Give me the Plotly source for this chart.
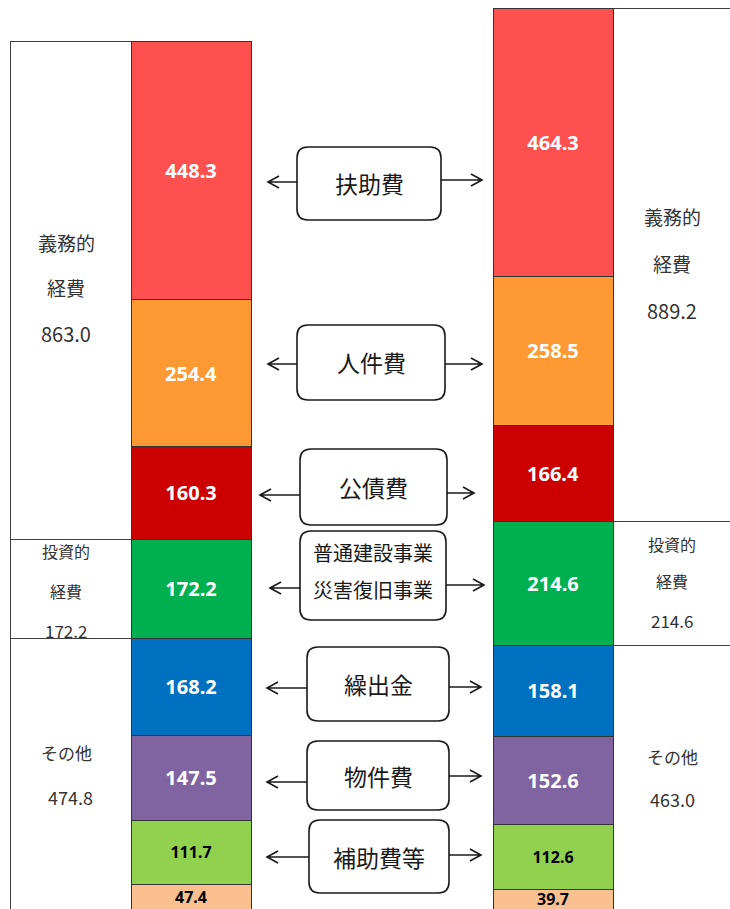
import plotly.graph_objects as go

# ---------------- data ----------------
years = ["left", "right"]
seg_names = ["扶助費", "人件費", "公債費", "普通建設事業・災害復旧事業", "繰出金", "物件費", "補助費等", "その他"]
# values listed top-to-bottom for each column
left_vals = [448.3, 254.4, 160.3, 172.2, 168.2, 147.5, 111.7, 47.4]
right_vals = [464.3, 258.5, 166.4, 214.6, 158.1, 152.6, 112.6, 39.7]
seg_colors = ["#FF5050", "#FF9933", "#CC0000", "#00B050", "#0070C0", "#8064A2", "#92D050", "#FAC090"]
seg_text_colors = ["white", "white", "white", "white", "white", "white", "black", "black"]

group_names = [["義務的", "経費"], ["投資的", "経費"], ["その他"]]
group_members = [[0, 1, 2], [3], [4, 5, 6, 7]]
box_labels = ["扶助費", "人件費", "公債費", ["普通建設事業", "災害復旧事業"], "繰出金", "物件費", "補助費等"]

# ---------------- layout constants ----------------
W, H = 730, 909
BAR_X = [191, 553]
BAR_W = 120
SIDE_X = [70.5, 673]
SIDE_W = [121, 120]
Y_RANGE = [5.2, 1582]
SEG_FONT = [20, 20, 20, 20, 20, 20, 16, 16]


def py(y):
    return 1 - y / H


fig = go.Figure()

# side (white) boxes, stacked bottom to top
for gi in reversed(range(len(group_members))):
    lv = round(sum(left_vals[i] for i in group_members[gi]), 1)
    rv = round(sum(right_vals[i] for i in group_members[gi]), 1)
    fig.add_trace(go.Bar(
        x=SIDE_X, y=[lv, rv], width=SIDE_W,
        marker=dict(color="white", line=dict(color="#404040", width=1)),
        hoverinfo="skip", showlegend=False))

annotations = []
last = len(left_vals) - 1
# coloured segments, stacked bottom to top
for i in reversed(range(len(left_vals))):
    labels = [f"{left_vals[i]:.1f}", f"{right_vals[i]:.1f}"]
    tf = dict(color=seg_text_colors[i], size=SEG_FONT[i], family="Noto Sans, sans-serif", weight="bold")
    fig.add_trace(go.Bar(
        x=BAR_X, y=[left_vals[i], right_vals[i]], width=BAR_W,
        name=seg_names[i],
        marker=dict(color=seg_colors[i], line=dict(color="#333333", width=1)),
        text=None if i == last else labels,
        textposition="inside", insidetextanchor="middle",
        textfont=tf, constraintext="none",
        hoverinfo="skip", showlegend=False))
    if i == last:
        # bottom segment is partly below the page edge: keep its label inside the page
        for bx, t, yy in zip(BAR_X, labels, [897, 899]):
            annotations.append(dict(x=bx, y=py(yy), xref="x", yref="paper", text=t, showarrow=False,
                                    font=tf, xanchor="center", yanchor="middle"))

FONT_JP = "Noto Sans CJK JP"

# side box labels
left_side = [
    [(242, "義務的", 19), (287, "経費", 19), (333, None, 20)],
    [(551, "投資的", 16), (591, "経費", 16), (630, None, 17)],
    [(752, "その他", 17), (797, None, 18)],
]
right_side = [
    [(217, "義務的", 19), (263, "経費", 19), (310, None, 20)],
    [(544, "投資的", 16), (581, "経費", 16), (620, None, 17)],
    [(756, "その他", 17), (799, None, 18)],
]
for col, spec, xc in [(left_vals, left_side, 66), (right_vals, right_side, 672)]:
    for gi, lines in enumerate(spec):
        total = round(sum(col[i] for i in group_members[gi]), 1)
        for (yy, txt, fs) in lines:
            t = txt if txt is not None else f"{total:.1f}"
            annotations.append(dict(x=xc + (4 if (gi == 2 and txt is None and xc < 300) else 0),
                                    y=py(yy), xref="x", yref="paper", text=t, showarrow=False,
                                    font=dict(size=fs, color="#333333", family=FONT_JP),
                                    xanchor="center", yanchor="middle"))

# middle rounded boxes with arrows
boxes = [  # x0, y0, x1, y1, left-arrow tip x, left y, right tip x, right y
    (297, 147, 441, 220, 268, 182, 482, 180),
    (297, 325, 445, 400, 268, 364, 482, 364),
    (300, 449, 447, 525, 260, 495, 474, 493),
    (300, 531, 446, 620, 270, 588, 484, 585),
    (307, 647, 449, 721, 267, 688, 481, 687),
    (307, 741, 449, 810, 267, 782, 481, 776),
    (309, 820, 449, 893, 267, 857, 481, 855),
]


def P(x, y):
    return f"{x},{py(y)}"


shapes = []
r = 11
for bi, (x0, y0, x1, y1, lx, ly, rx, ry) in enumerate(boxes):
    path = (f"M {P(x0 + r, y0)} L {P(x1 - r, y0)} Q {P(x1, y0)} {P(x1, y0 + r)} "
            f"L {P(x1, y1 - r)} Q {P(x1, y1)} {P(x1 - r, y1)} "
            f"L {P(x0 + r, y1)} Q {P(x0, y1)} {P(x0, y1 - r)} "
            f"L {P(x0, y0 + r)} Q {P(x0, y0)} {P(x0 + r, y0)} Z")
    shapes.append(dict(type="path", path=path, xref="x", yref="paper",
                       fillcolor="white", line=dict(color="#1a1a1a", width=1.6)))
    # left arrow
    shapes.append(dict(type="path", xref="x", yref="paper",
                       path=f"M {P(x0, ly)} L {P(lx, ly)} M {P(lx + 11, ly - 6)} L {P(lx, ly)} L {P(lx + 11, ly + 6)}",
                       line=dict(color="#1a1a1a", width=1.6)))
    # right arrow
    shapes.append(dict(type="path", xref="x", yref="paper",
                       path=f"M {P(x1, ry)} L {P(rx, ry)} M {P(rx - 11, ry - 6)} L {P(rx, ry)} L {P(rx - 11, ry + 6)}",
                       line=dict(color="#1a1a1a", width=1.6)))
    lab = box_labels[bi]
    cx = (x0 + x1) / 2
    if isinstance(lab, list):
        for k, t in enumerate(lab):
            annotations.append(dict(x=cx, y=py([552, 589][k]), xref="x", yref="paper", text=t,
                                    showarrow=False, font=dict(size=20, color="#1a1a1a", family=FONT_JP),
                                    xanchor="center", yanchor="middle"))
    else:
        annotations.append(dict(x=cx, y=py((y0 + y1) / 2), xref="x", yref="paper", text=lab,
                                showarrow=False, font=dict(size=23, color="#1a1a1a", family=FONT_JP),
                                xanchor="center", yanchor="middle"))

fig.update_layout(
    barmode="stack",
    width=W, height=H,
    margin=dict(l=0, r=0, t=0, b=0),
    paper_bgcolor="white", plot_bgcolor="white",
    xaxis=dict(range=[0, W], visible=False, fixedrange=True),
    yaxis=dict(range=Y_RANGE, visible=False, fixedrange=True),
    shapes=shapes, annotations=annotations,
    showlegend=False,
)

fig.write_html("out.html", config={"displayModeBar": False})
